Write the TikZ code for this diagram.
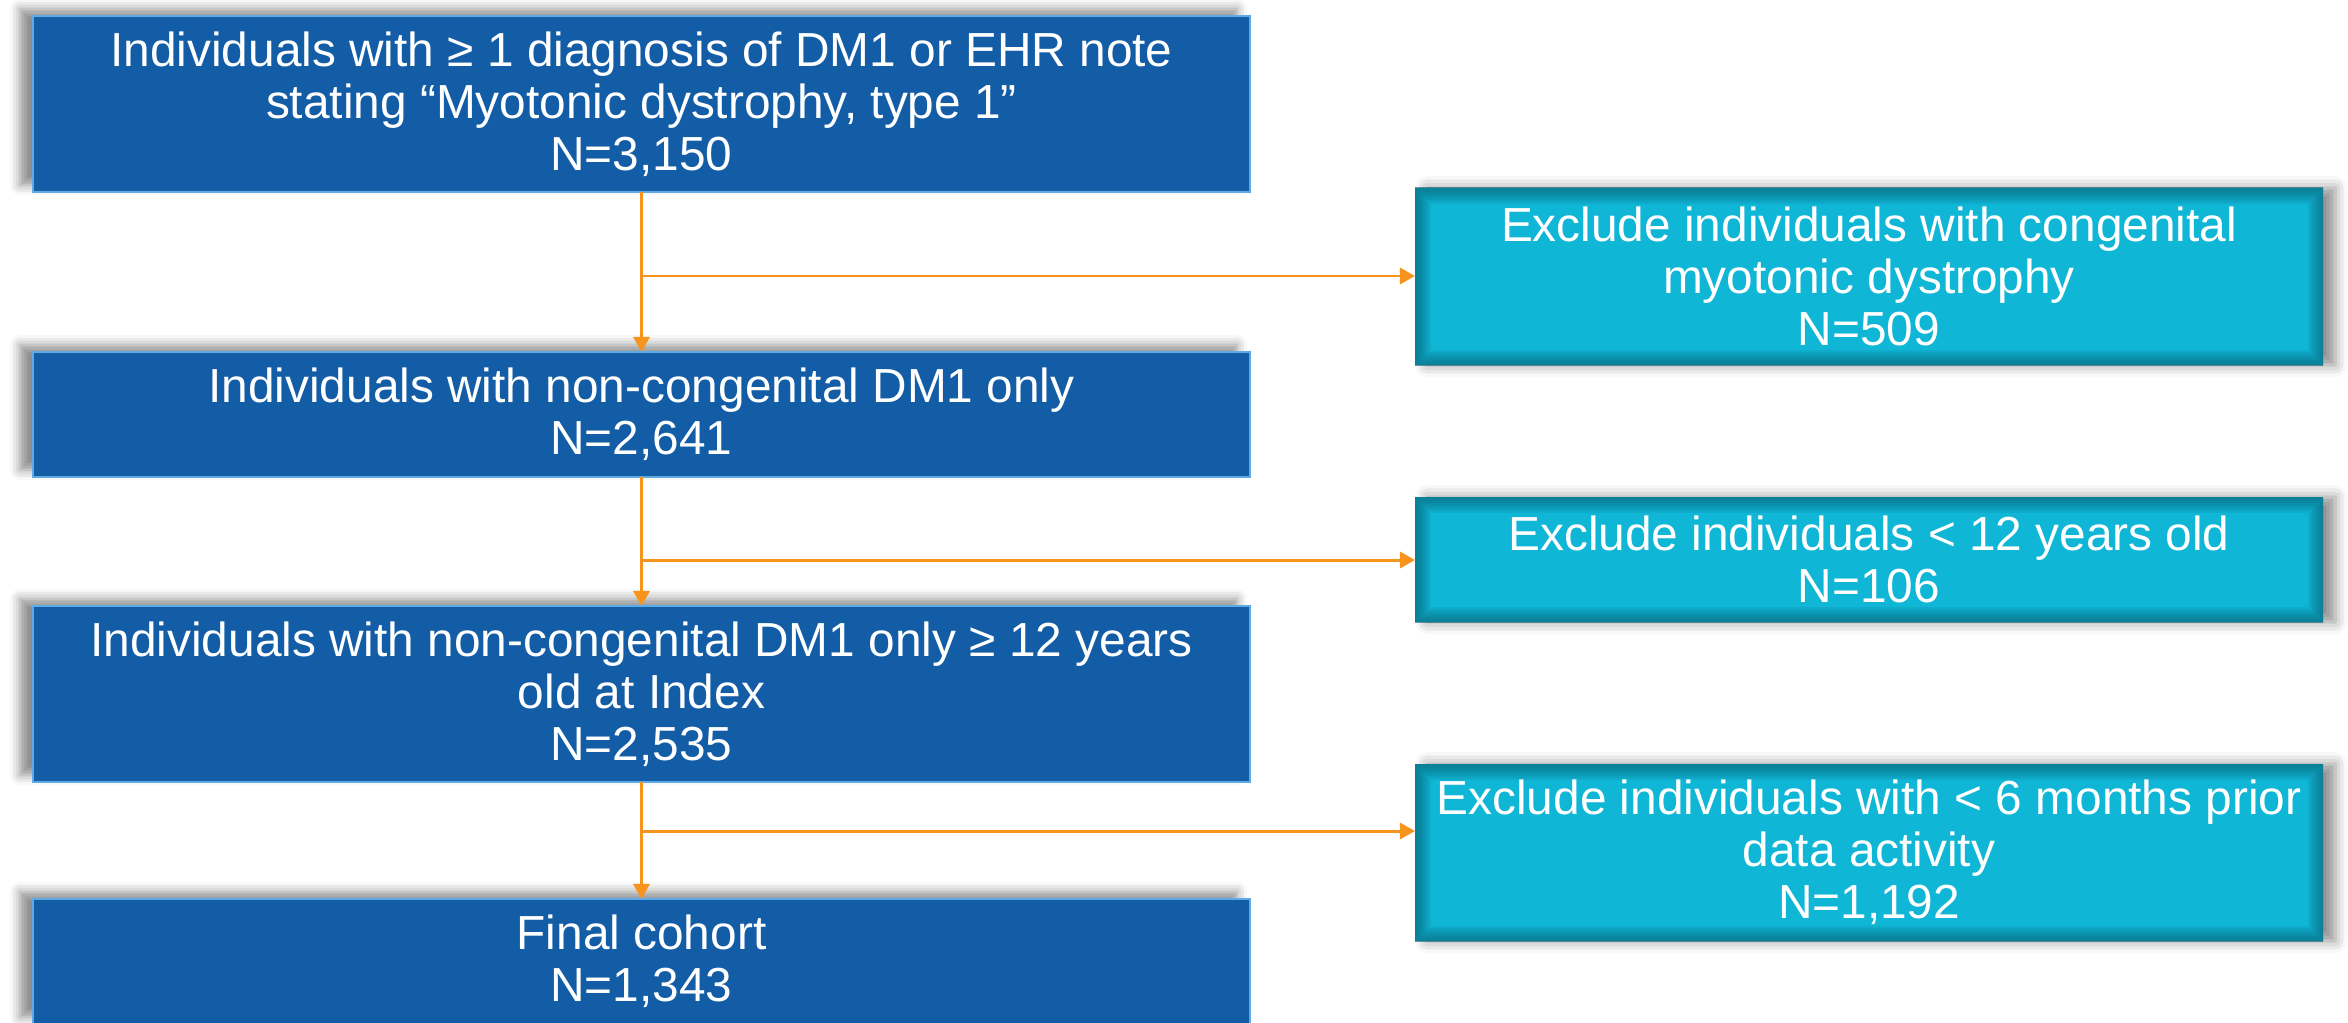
\documentclass[tikz,border=0pt]{standalone}
\usepackage{fontspec}
\setmainfont{Liberation Sans}
\usetikzlibrary{arrows.meta,shadows.blur}

\definecolor{stepblue}{HTML}{135CA6}
\definecolor{stepedge}{HTML}{5EAAE6}
\definecolor{exclcyan}{HTML}{0FB6D6}
\definecolor{exclshade}{HTML}{0A5F70}
\definecolor{flowline}{HTML}{F7941D}

\tikzset{
  every node/.style={font=\fontsize{13.6}{14.8}\selectfont, text=white, align=center,
    inner sep=0pt, outer sep=0pt},
  stepbox/.style={fill=stepblue, draw=stepedge, line width=0.6pt,
    minimum width=12.17cm,
    blur shadow={shadow xshift=-0.13cm, shadow yshift=0.07cm, shadow blur radius=0.1cm,
      shadow opacity=45}},
  exclbox/.style={fill=exclcyan, draw=none,
    minimum width=9.08cm,
    blur shadow={shadow xshift=0.12cm, shadow yshift=0cm, shadow blur radius=0.12cm,
      shadow opacity=45},
    path picture={
      \foreach \w in {0.03,0.07,...,0.35}
        \draw[draw=exclshade, line width=\w cm, opacity=0.11]
          (path picture bounding box.south west) rectangle (path picture bounding box.north east);
    }},
  flow/.style={draw=flowline, line width=0.85pt,
    -{Triangle[length=4.3pt,width=4.6pt]}},
}

\begin{document}
\begin{tikzpicture}
  \useasboundingbox (0,0) rectangle (23.48,-10.22);

  % main sequence of cohort steps
  \node[stepbox, minimum height=1.76cm] (b1) at (6.415,-1.04)
    {Individuals with ≥ 1 diagnosis of DM1 or EHR note\\stating “Myotonic dystrophy, type 1”\\N=3,150};
  \node[stepbox, minimum height=1.25cm] (b2) at (6.415,-4.145)
    {Individuals with non-congenital DM1 only\\N=2,641};
  \node[stepbox, minimum height=1.76cm] (b3) at (6.415,-6.94)
    {Individuals with non-congenital DM1 only ≥ 12 years\\old at Index\\N=2,535};
  \node[stepbox, minimum height=1.25cm] (b4) at (6.415,-9.615)
    {Final cohort\\N=1,343};

  % exclusions
  \node[exclbox, minimum height=1.77cm] (r1) at (18.69,-2.765)
    {Exclude individuals with congenital\\myotonic dystrophy\\N=509};
  \node[exclbox, minimum height=1.25cm] (r2) at (18.69,-5.595)
    {Exclude individuals < 12 years old\\N=106};
  \node[exclbox, minimum height=1.77cm] (r3) at (18.69,-8.525)
    {Exclude individuals with < 6 months prior\\data activity\\N=1,192};

  % branch points on the main line
  \coordinate (j1) at (6.415,-2.76);
  \coordinate (j2) at (6.415,-5.60);
  \coordinate (j3) at (6.415,-8.31);

  \draw[flow] (b1.south) -- (b2.north);
  \draw[flow] (b2.south) -- (b3.north);
  \draw[flow] (b3.south) -- (b4.north);

  \draw[flow] (j1) -- (j1 -| r1.west);
  \draw[flow] (j2) -- (j2 -| r2.west);
  \draw[flow] (j3) -- (j3 -| r3.west);
\end{tikzpicture}
\end{document}
